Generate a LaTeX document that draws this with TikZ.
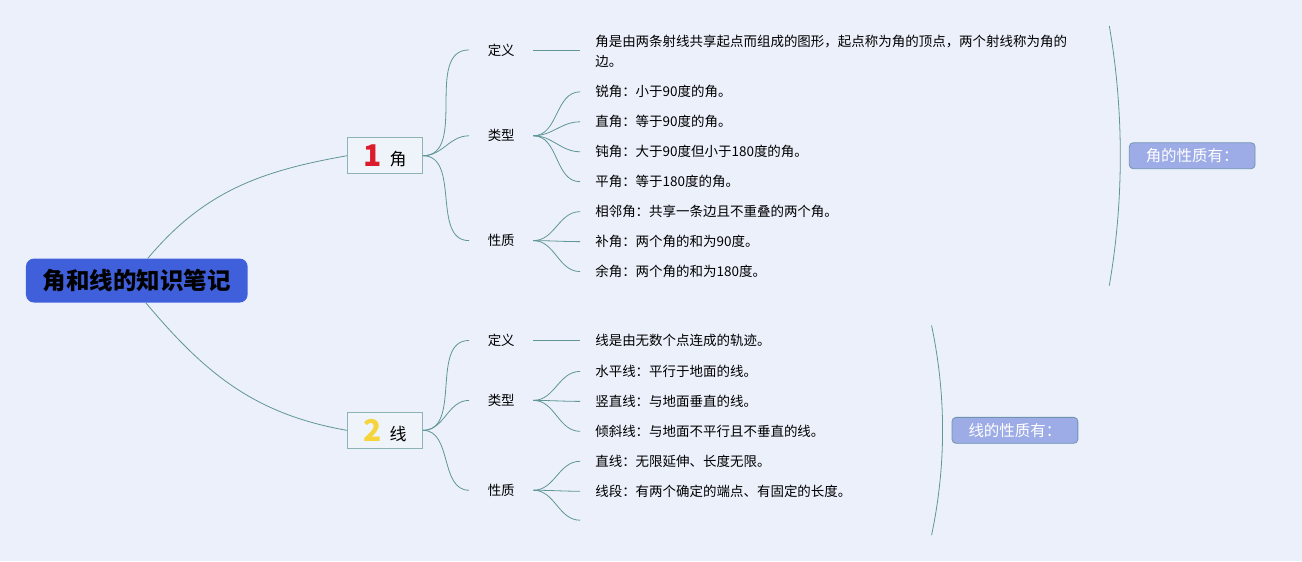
\documentclass[tikz,border=0pt]{standalone}
\usepackage{fontspec}
\setmainfont{Noto Sans CJK SC}
\usetikzlibrary{positioning}

\definecolor{bgc}{RGB}{235,240,251}
\definecolor{linkc}{RGB}{96,150,150}
\definecolor{rootc}{RGB}{64,95,218}
\definecolor{boxc}{RGB}{140,180,180}
\definecolor{boxf}{RGB}{238,244,249}
\definecolor{onec}{RGB}{218,28,44}
\definecolor{twoc}{RGB}{246,212,60}
\definecolor{sumf}{RGB}{157,172,230}
\definecolor{sumd}{RGB}{110,148,176}

\begin{document}
\begin{tikzpicture}[x=1pt,y=1pt,
    link/.style={draw=linkc, line width=0.8pt},
    root/.style={fill=rootc, rounded corners=8pt, minimum width=222pt, minimum height=44pt, font=\fontsize{23.5}{23.5}\selectfont\bfseries},
    topic/.style={draw=boxc, fill=boxf, line width=1.2pt, minimum width=75pt, minimum height=36pt, inner sep=0pt, font=\fontsize{17}{17}\selectfont},
    num/.style={font=\fontsize{30}{30}\selectfont\bfseries},
    sub/.style={minimum width=64pt, inner sep=0pt, font=\fontsize{13.5}{16}\selectfont},
    leaf/.style={anchor=west, inner xsep=15pt, inner ysep=0pt, align=left, font=\fontsize{13.5}{20}\selectfont},
    summary/.style={draw=sumd, fill=sumf, text=white, line width=0.8pt, rounded corners=4pt, minimum width=126pt, minimum height=26pt, font=\fontsize{15.5}{15.5}\selectfont}]
    \fill[bgc] (-1,-1) rectangle (1303,561);
    \useasboundingbox (0,0) rectangle (1302,560);

    \node[root] (root) at (136,280) {角和线的知识笔记};
    \node[topic] (angle) at (384.5,405) {\raisebox{-1pt}{\textcolor{onec}{\fontsize{30}{30}\selectfont\bfseries 1}}\hspace{8pt}角};
    \node[topic] (line) at (384.5,130) {\raisebox{-1pt}{\textcolor{twoc}{\fontsize{30}{30}\selectfont\bfseries 2}}\hspace{8pt}线};
    \draw[link] ([xshift=11pt]root.north) to[out=50,in=190] (angle.west);
    \draw[link] ([xshift=9pt]root.south) to[out=-50,in=170] (line.west);

    \node[sub] (a1) at (501,511) {定义};
    \node[sub] (a2) at (501,425) {类型};
    \node[sub] (a3) at (501,320) {性质};
    \node[sub] (b1) at (501,220) {定义};
    \node[sub] (b2) at (501,160) {类型};
    \node[sub] (b3) at (501,70) {性质};
    \foreach \s in {a1,a2,a3}
        \draw[link] (angle.east) to[out=0,in=180] (\s.west);
    \foreach \s in {b1,b2,b3}
        \draw[link] (line.east) to[out=0,in=180] (\s.west);

    \node[leaf] (a11) at (580,510) {角是由两条射线共享起点而组成的图形，起点称为角的顶点，两个射线称为角的\\边。};
    \draw[link] (a1.east) -- (a11.west |- a1.east);
    \foreach \y/\txt [count=\i] in {469/锐角：小于90度的角。, 439/直角：等于90度的角。, 409/钝角：大于90度但小于180度的角。, 379/平角：等于180度的角。} {
        \node[leaf] (a2\i) at (580,\y) {\txt};
        \draw[link] (a2.east) to[out=0,in=180] (a2\i.west);
    }
    \foreach \y/\txt [count=\i] in {349/相邻角：共享一条边且不重叠的两个角。, 319/补角：两个角的和为90度。, 289/余角：两个角的和为180度。} {
        \node[leaf] (a3\i) at (580,\y) {\txt};
        \draw[link] (a3.east) to[out=0,in=180] (a3\i.west);
    }

    \node[leaf] (b11) at (580,220) {线是由无数个点连成的轨迹。};
    \draw[link] (b1.east) -- (b11.west);
    \foreach \y/\txt [count=\i] in {189/水平线：平行于地面的线。, 159/竖直线：与地面垂直的线。, 129/倾斜线：与地面不平行且不垂直的线。} {
        \node[leaf] (b2\i) at (580,\y) {\txt};
        \draw[link] (b2.east) to[out=0,in=180] (b2\i.west);
    }
    \foreach \y/\txt [count=\i] in {99/直线：无限延伸、长度无限。, 69/线段：有两个确定的端点、有固定的长度。} {
        \node[leaf] (b3\i) at (580,\y) {\txt};
        \draw[link] (b3.east) to[out=0,in=180] (b3\i.west);
    }
    \coordinate (b33) at (580,40);
    \draw[link] (b3.east) to[out=0,in=180] (b33);

    \coordinate (s1top) at (1110,535);
    \coordinate (s1bot) at (1110,275);
    \draw[link] (s1top) .. controls (1124.7,450) and (1124.7,360) .. (s1bot);
    \node[summary] (sum1) at (1193,405) {角的性质有：};
    \coordinate (s2top) at (932,235);
    \coordinate (s2bot) at (932,25);
    \draw[link] (s2top) .. controls (946.7,165) and (946.7,95) .. (s2bot);
    \node[summary] (sum2) at (1015.5,130) {线的性质有：};
\end{tikzpicture}
\end{document}
